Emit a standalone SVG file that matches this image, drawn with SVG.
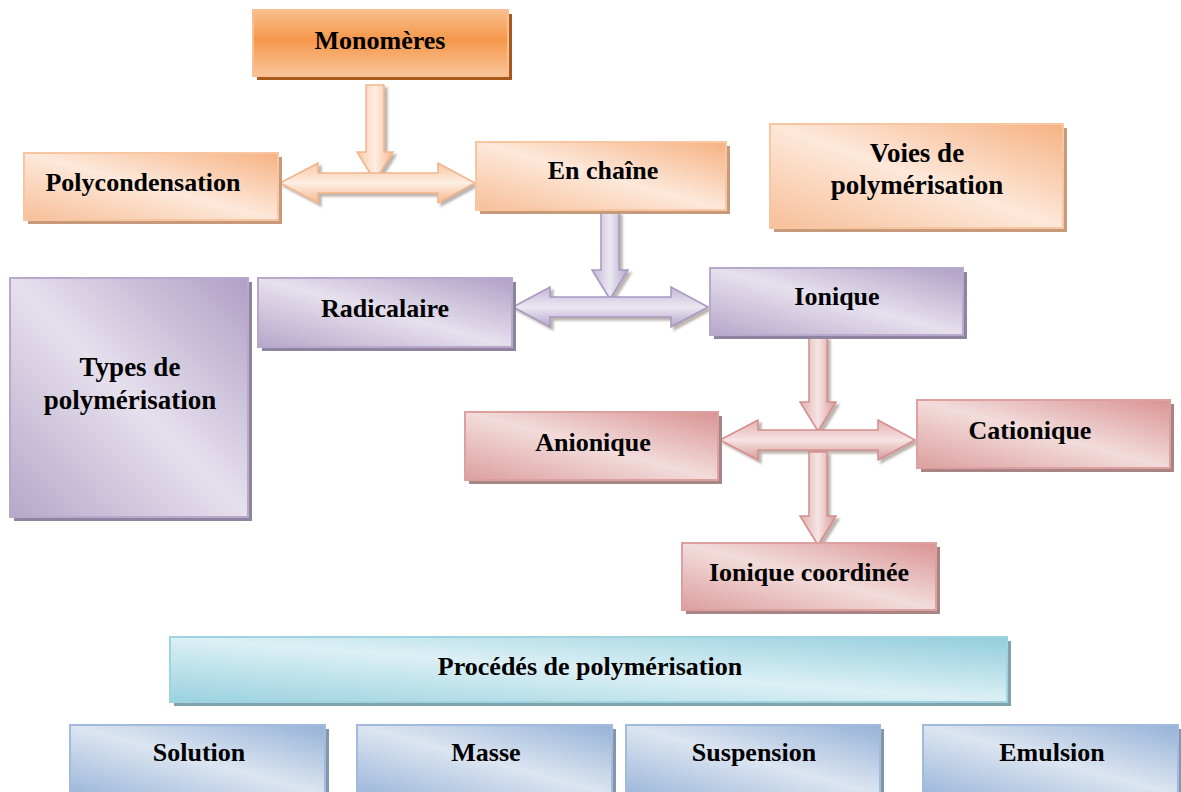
<svg xmlns="http://www.w3.org/2000/svg" width="1181" height="792" viewBox="0 0 1181 792">
<style>
text{font-family:"Liberation Serif","Times New Roman",serif;font-weight:bold;font-size:26px;fill:#000;text-anchor:middle}
.big{font-size:27px}
.sh-or{fill:#c89a7c}
.sh-mo{fill:#a85a1c}
.sh-pu{fill:#8e84a0}
.sh-pk{fill:#a88584}
.sh-bl{fill:#8496ac}
.sh-tl{fill:#7fa3ac}
.b-or{fill:url(#gOr);stroke:#f8c7a2;stroke-width:2}
.b-mo{fill:url(#gMo);stroke:#f9bf92;stroke-width:2}
.b-pu{fill:url(#gPu);stroke:#b8a9cc;stroke-width:2}
.b-pk{fill:url(#gPk);stroke:#dca0a0;stroke-width:2}
.b-bl{fill:url(#gBl);stroke:#a2bbdc;stroke-width:2}
.b-tl{fill:url(#gTl);stroke:#9fd3e0;stroke-width:2}
.a-or{fill:url(#aOrV);stroke:#f3b58c;stroke-width:1.5;filter:url(#ds)}
.a-orh{fill:url(#aOrH);stroke:#f3b58c;stroke-width:1.5;filter:url(#ds)}
.a-pu{fill:url(#aPuV);stroke:#a898c0;stroke-width:1.5;filter:url(#ds)}
.a-puh{fill:url(#aPuH);stroke:#a898c0;stroke-width:1.5;filter:url(#ds)}
.a-pk{fill:url(#aPkV);stroke:#d48e8c;stroke-width:1.5;filter:url(#ds)}
.a-pkh{fill:url(#aPkH);stroke:#d48e8c;stroke-width:1.5;filter:url(#ds)}
</style>
<defs>
<filter id="ds" x="-20%" y="-20%" width="150%" height="150%">
<feDropShadow dx="3" dy="3" stdDeviation="1" flood-color="#6a5a50" flood-opacity="0.45"/>
</filter>
<linearGradient id="gOr" x1="1" y1="0" x2="0" y2="1">
<stop offset="0" stop-color="#f6b283"/><stop offset="0.5" stop-color="#fde8da"/><stop offset="1" stop-color="#f7bf98"/>
</linearGradient>
<linearGradient id="gMo" x1="0" y1="0" x2="0" y2="1">
<stop offset="0" stop-color="#f9bf8e"/><stop offset="0.45" stop-color="#f5974b"/><stop offset="1" stop-color="#f9c59a"/>
</linearGradient>
<linearGradient id="gPu" x1="1" y1="0" x2="0" y2="1">
<stop offset="0" stop-color="#b09fc6"/><stop offset="0.5" stop-color="#e6e0ed"/><stop offset="1" stop-color="#b6a7ca"/>
</linearGradient>
<linearGradient id="gPk" x1="1" y1="0" x2="0" y2="1">
<stop offset="0" stop-color="#d99392"/><stop offset="0.5" stop-color="#f2dcdb"/><stop offset="1" stop-color="#dc9f9e"/>
</linearGradient>
<linearGradient id="gBl" x1="1" y1="0" x2="0" y2="1">
<stop offset="0" stop-color="#95b2d7"/><stop offset="0.5" stop-color="#dce5f1"/><stop offset="1" stop-color="#9cb7da"/>
</linearGradient>
<linearGradient id="gTl" x1="1" y1="0" x2="0" y2="1">
<stop offset="0" stop-color="#92cddc"/><stop offset="0.5" stop-color="#dcf0f5"/><stop offset="1" stop-color="#9ad1df"/>
</linearGradient>
<linearGradient id="aOrV" x1="0" y1="0" x2="1" y2="0">
<stop offset="0" stop-color="#f9c7a2"/><stop offset="0.5" stop-color="#fdeee3"/><stop offset="1" stop-color="#f6b88e"/>
</linearGradient>
<linearGradient id="aOrH" x1="0" y1="0" x2="0" y2="1">
<stop offset="0" stop-color="#f9c7a2"/><stop offset="0.5" stop-color="#fdeee3"/><stop offset="1" stop-color="#f6b88e"/>
</linearGradient>
<linearGradient id="aPuV" x1="0" y1="0" x2="1" y2="0">
<stop offset="0" stop-color="#c2b5d5"/><stop offset="0.5" stop-color="#ece8f2"/><stop offset="1" stop-color="#b4a5ca"/>
</linearGradient>
<linearGradient id="aPuH" x1="0" y1="0" x2="0" y2="1">
<stop offset="0" stop-color="#c2b5d5"/><stop offset="0.5" stop-color="#ece8f2"/><stop offset="1" stop-color="#b4a5ca"/>
</linearGradient>
<linearGradient id="aPkV" x1="0" y1="0" x2="1" y2="0">
<stop offset="0" stop-color="#e3aeae"/><stop offset="0.5" stop-color="#f6e4e4"/><stop offset="1" stop-color="#d99a99"/>
</linearGradient>
<linearGradient id="aPkH" x1="0" y1="0" x2="0" y2="1">
<stop offset="0" stop-color="#e3aeae"/><stop offset="0.5" stop-color="#f6e4e4"/><stop offset="1" stop-color="#d99a99"/>
</linearGradient>
</defs>
<rect width="1181" height="792" fill="#fff"/>

<g id="connectors">
<path class="a-or" d="M366,85 H384 V152 H393 L375,181 L357,152 H366 Z"/>
<path class="a-orh" d="M280,183 L318,163 V173 H438 V163 L475,183 L438,203 V193 H318 V203 Z"/>
<path class="a-pu" d="M601,212 H619 V270 H628 L610,299 L592,270 H601 Z"/>
<path class="a-puh" d="M513,307 L550,287 V297 H671 V287 L708,307 L671,327 V317 H550 V327 Z"/>
<path class="a-pk" d="M809,337 H827 V402 H836 L818,431 L800,402 H809 Z"/>
<path class="a-pkh" d="M720,440 L758,420 V430 H878 V420 L915,440 L878,460 V450 H758 V460 Z"/>
<path class="a-pk" d="M809,452 H827 V516 H836 L818,545 L800,516 H809 Z"/>
</g>

<g id="monomeres">
<rect class="sh-mo" x="257" y="14" width="255" height="66"/>
<rect class="b-mo" x="253" y="10" width="255" height="66"/>
<text x="380" y="49">Monomères</text>
</g>
<g id="polycondensation">
<rect class="sh-or" x="28" y="157" width="254" height="67"/>
<rect class="b-or" x="24" y="153" width="254" height="67"/>
<text x="143" y="191">Polycondensation</text>
</g>
<g id="en-chaine">
<rect class="sh-or" x="480" y="146" width="250" height="68"/>
<rect class="b-or" x="476" y="142" width="250" height="68"/>
<text x="603" y="179">En chaîne</text>
</g>
<g id="voies">
<rect class="sh-or" x="774" y="128" width="293" height="104"/>
<rect class="b-or" x="770" y="124" width="293" height="104"/>
<text class="big" x="917" y="162">Voies de</text>
<text class="big" x="917" y="194">polymérisation</text>
</g>
<g id="types">
<rect class="sh-pu" x="14" y="282" width="238" height="239"/>
<rect class="b-pu" x="10" y="278" width="238" height="239"/>
<text class="big" x="130" y="376">Types de</text>
<text class="big" x="130" y="409">polymérisation</text>
</g>
<g id="radicalaire">
<rect class="sh-pu" x="262" y="282" width="254" height="69"/>
<rect class="b-pu" x="258" y="278" width="254" height="69"/>
<text x="385" y="317">Radicalaire</text>
</g>
<g id="ionique">
<rect class="sh-pu" x="714" y="272" width="253" height="67"/>
<rect class="b-pu" x="710" y="268" width="253" height="67"/>
<text x="837" y="305">Ionique</text>
</g>
<g id="anionique">
<rect class="sh-pk" x="469" y="416" width="253" height="68"/>
<rect class="b-pk" x="465" y="412" width="253" height="68"/>
<text x="593" y="451">Anionique</text>
</g>
<g id="cationique">
<rect class="sh-pk" x="921" y="404" width="253" height="68"/>
<rect class="b-pk" x="917" y="400" width="253" height="68"/>
<text x="1030" y="439">Cationique</text>
</g>
<g id="ionique-coordinee">
<rect class="sh-pk" x="686" y="547" width="254" height="67"/>
<rect class="b-pk" x="682" y="543" width="254" height="67"/>
<text x="809" y="581">Ionique coordinée</text>
</g>
<g id="procedes">
<rect class="sh-tl" x="174" y="641" width="837" height="65"/>
<rect class="b-tl" x="170" y="637" width="837" height="65"/>
<text x="590" y="675">Procédés de polymérisation</text>
</g>
<g id="solution">
<rect class="sh-bl" x="74" y="729" width="255" height="70"/>
<rect class="b-bl" x="70" y="725" width="255" height="70"/>
<text x="199" y="761">Solution</text>
</g>
<g id="masse">
<rect class="sh-bl" x="361" y="729" width="255" height="70"/>
<rect class="b-bl" x="357" y="725" width="255" height="70"/>
<text x="486" y="761">Masse</text>
</g>
<g id="suspension">
<rect class="sh-bl" x="630" y="729" width="254" height="70"/>
<rect class="b-bl" x="626" y="725" width="254" height="70"/>
<text x="754" y="761">Suspension</text>
</g>
<g id="emulsion">
<rect class="sh-bl" x="927" y="729" width="255" height="70"/>
<rect class="b-bl" x="923" y="725" width="255" height="70"/>
<text x="1052" y="761">Emulsion</text>
</g>
</svg>
